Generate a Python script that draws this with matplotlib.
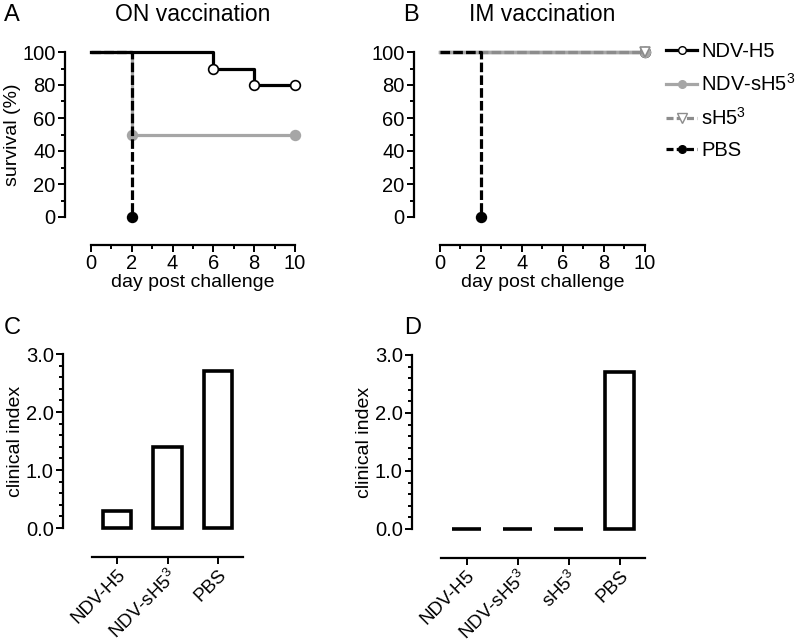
import numpy as np
import matplotlib
matplotlib.use("Agg")
import matplotlib.pyplot as plt
from matplotlib.ticker import MultipleLocator
from matplotlib.lines import Line2D

plt.rcParams['font.family'] = ['Liberation Sans', 'DejaVu Sans']
plt.rcParams['mathtext.fontset'] = 'custom'
plt.rcParams['mathtext.rm'] = 'Liberation Sans'
plt.rcParams['mathtext.it'] = 'Liberation Sans'

# survival data (day, % surviving), step functions
on_h5_day = [0, 6, 8, 10]
on_h5_surv = [100, 90, 80, 80]
on_sh5_day = [0, 2, 10]
on_sh5_surv = [100, 50, 50]
on_pbs_day = [0, 2]
on_pbs_surv = [100, 0]

im_h5_day = [0, 10]
im_h5_surv = [100, 100]
im_sh5_day = [0, 10]
im_sh5_surv = [100, 100]
im_prot_day = [0, 10]
im_prot_surv = [100, 100]
im_pbs_day = [0, 2]
im_pbs_surv = [100, 0]

# clinical index
on_groups = ['NDV-H5', 'NDV-sH5$^3$', 'PBS']
on_index = [0.3, 1.4, 2.7]
im_groups = ['NDV-H5', 'NDV-sH5$^3$', 'sH5$^3$', 'PBS']
im_index = [0.0, 0.0, 0.0, 2.7]

GREY = '#a6a6a6'
DGREY = '#8c8c8c'
W, H = 796, 643
TICK_FS = 14.5
LAB_FS = 14

fig = plt.figure(figsize=(W / 100, H / 100), dpi=100)


def px_axes(l, r, t, b):
    return fig.add_axes([l / W, 1 - b / H, (r - l) / W, (b - t) / H])


def style(ax, off_x, off_y):
    for s in ['top', 'right']:
        ax.spines[s].set_visible(False)
    ax.spines['left'].set_position(('outward', off_y))
    ax.spines['bottom'].set_position(('outward', off_x))
    for s in ['left', 'bottom']:
        ax.spines[s].set_linewidth(1.6)
    ax.tick_params(which='major', length=5, width=1.4, labelsize=TICK_FS, pad=1.5)
    ax.tick_params(which='minor', length=3, width=1.4)


def step(ax, d, s, color, ls, marker, mfc, mark_idx, z):
    ax.plot(d, s, drawstyle='steps-post', color=color, ls=ls, lw=2.3,
            dashes=(3, 1) if ls == '--' else (None, None),
            clip_on=False, zorder=z)
    ax.plot([d[i] for i in mark_idx], [s[i] for i in mark_idx], ls='none',
            marker=marker, ms=7, mfc=mfc, mec=color, mew=1.2,
            clip_on=False, zorder=z + 0.5)


def survival_axes(ax, title):
    style(ax, 20, 19)
    ax.set_xlim(0, 10)
    ax.set_ylim(0, 100)
    ax.set_xticks(range(0, 11, 2))
    ax.xaxis.set_minor_locator(MultipleLocator(1))
    ax.set_yticks(range(0, 101, 20))
    ax.yaxis.set_minor_locator(MultipleLocator(10))
    ax.set_xlabel('day post challenge', fontsize=LAB_FS, labelpad=1)
    ax.set_ylabel('survival (%)', fontsize=LAB_FS, labelpad=1)
    ax.set_title(title, fontsize=16.5, pad=22)


axA = px_axes(91, 295, 52, 217)
survival_axes(axA, 'ON vaccination')
step(axA, on_h5_day, on_h5_surv, 'black', '-', 'o', 'white', [1, 2, 3], 3)
step(axA, on_sh5_day, on_sh5_surv, GREY, '-', 'o', GREY, [1, 2], 2)
step(axA, on_pbs_day, on_pbs_surv, 'black', '--', 'o', 'black', [1], 4)

axB = px_axes(440, 645, 52, 217)
survival_axes(axB, 'IM vaccination')
axB.set_ylabel('')
step(axB, im_h5_day, im_h5_surv, 'black', '-', 'o', 'white', [1], 1)
step(axB, im_sh5_day, im_sh5_surv, GREY, '-', 'o', GREY, [1], 2)
step(axB, im_prot_day, im_prot_surv, DGREY, '--', 'v', 'white', [1], 3)
step(axB, im_pbs_day, im_pbs_surv, 'black', '--', 'o', 'black', [1], 4)

handles = [
    Line2D([], [], color='black', lw=2.3, marker='o', ms=5.5, mfc='white', mec='black'),
    Line2D([], [], color=GREY, lw=2.3, marker='o', ms=5.5, mfc=GREY, mec=GREY),
    Line2D([], [], color=DGREY, lw=2.3, ls='--', dashes=(2.2, 1), marker='v', ms=7, mfc='white', mec=DGREY),
    Line2D([], [], color='black', lw=2.3, ls='--', dashes=(2.2, 1), marker='o', ms=5.5, mfc='black', mec='black'),
]
fig.legend(handles, ['NDV-H5', 'NDV-sH5$^3$', 'sH5$^3$', 'PBS'],
           loc='upper left', bbox_to_anchor=(666 / W, 1 - 42 / H),
           frameon=False, fontsize=14.5, handlelength=1.55, handletextpad=0.2,
           labelspacing=0.6, borderaxespad=0, borderpad=0)


def bar_axes(ax, groups, vals):
    style(ax, 21, 21)
    x = np.arange(len(groups))
    ax.bar(x, vals, width=0.56, color='white', edgecolor='black', lw=2.6,
           clip_on=False)
    ax.set_xlim(-0.5, len(groups) - 0.5)
    ax.set_ylim(0, 3)
    ax.set_yticks([0, 1, 2, 3])
    ax.set_yticklabels(['0.0', '1.0', '2.0', '3.0'])
    ax.yaxis.set_minor_locator(MultipleLocator(0.2))
    ax.set_xticks(x)
    ax.set_xticklabels(groups, rotation=45, ha='right', rotation_mode='anchor',
                       fontsize=13.5)
    ax.set_ylabel('clinical index', fontsize=LAB_FS, labelpad=1)


axC = px_axes(92, 243, 354, 528)
bar_axes(axC, on_groups, on_index)
axD = px_axes(441, 645, 355, 529)
bar_axes(axD, im_groups, im_index)

for lbl, x, y in [('A', 12, 15), ('B', 411, 15), ('C', 12, 328), ('D', 413, 328)]:
    fig.text(x / W, 1 - y / H, lbl, fontsize=17, ha='center', va='center')

fig.savefig('out.png', dpi=100)
